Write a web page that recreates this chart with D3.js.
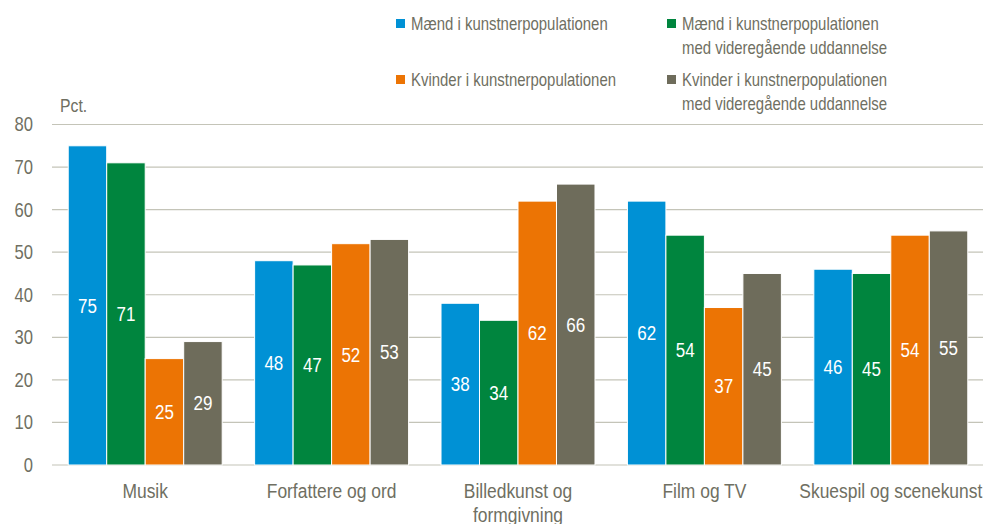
<!DOCTYPE html>
<html>
<head>
<meta charset="utf-8">
<script src="https://cdn.jsdelivr.net/npm/d3@7"></script>
<style>
  body { margin: 0; background: #fff; }
  svg { font-family: "Liberation Sans", Arial, sans-serif; }
</style>
</head>
<body>
<svg id="grafico" width="983" height="524"></svg>
<script>
// Data
let kategorier = ["Musik", "Forfattere og ord", "Billedkunst og formgivning", "Film og TV", "Skuespil og scenekunst"];
let kategoriLinjer = [["Musik"], ["Forfattere og ord"], ["Billedkunst og", "formgivning"], ["Film og TV"], ["Skuespil og scenekunst"]];
let serier = [
  "Mænd i kunstnerpopulationen",
  "Mænd i kunstnerpopulationen med videregående uddannelse",
  "Kvinder i kunstnerpopulationen",
  "Kvinder i kunstnerpopulationen med videregående uddannelse"
];
let serieLinjer = [
  ["Mænd i kunstnerpopulationen"],
  ["Mænd i kunstnerpopulationen", "med videregående uddannelse"],
  ["Kvinder i kunstnerpopulationen"],
  ["Kvinder i kunstnerpopulationen", "med videregående uddannelse"]
];
let maendAlle = [75, 48, 38, 62, 46];
let maendUdd = [71, 47, 34, 54, 45];
let kvinderAlle = [25, 52, 62, 37, 54];
let kvinderUdd = [29, 53, 66, 45, 55];
let yTicks = [0, 10, 20, 30, 40, 50, 60, 70, 80];
let farver = ["#0091d5", "#00853e", "#ec7404", "#6e6c5b"];

let vaerdier = [maendAlle, maendUdd, kvinderAlle, kvinderUdd];
let tekstFarve = "#6f6f62";
let smal = 0.83; // smal skrift (som Arial Narrow)

let svg = d3.select("#grafico");

let fnX = d3.scaleBand().domain(kategorier).range([52, 984]).paddingInner(0.174).paddingOuter(0.087);
let fnX1 = d3.scaleBand().domain(d3.range(serier.length)).range([0, fnX.bandwidth()]);
let fnY = d3.scaleLinear().domain([0, 80]).range([465, 124.5]);

// Gitterlinjer
svg.selectAll(".gitter")
  .data(yTicks)
  .enter()
  .append("line")
  .attr("x1", 52)
  .attr("x2", 983)
  .attr("y1", (d) => fnY(d))
  .attr("y2", (d) => fnY(d))
  .attr("stroke", "#c4c4b8")
  .attr("stroke-width", 1.2);

// Y-akse
let yAkse = d3.axisLeft(fnY).tickValues(yTicks).tickSize(0).tickPadding(0);
let gY = svg.append("g").attr("transform", "translate(33,0)").call(yAkse);
gY.select(".domain").remove();
gY.selectAll("text")
  .attr("fill", tekstFarve)
  .attr("font-size", 20)
  .attr("font-family", null)
  .attr("transform", "scale(" + smal + ",1)");

svg.append("text")
  .attr("transform", "translate(60,112) scale(" + smal + ",1)")
  .attr("fill", tekstFarve)
  .attr("font-size", 19)
  .text("Pct.");

// Barer
let grupper = svg.selectAll(".gruppe")
  .data(kategorier)
  .enter()
  .append("g")
  .attr("transform", (d) => "translate(" + fnX(d) + ",0)");

let barData = (d, i) => vaerdier.map((v, s) => ({ s: s, v: v[i] }));

grupper.selectAll(".barra")
  .data(barData)
  .enter()
  .append("rect")
  .attr("x", (d) => fnX1(d.s))
  .attr("y", (d) => fnY(d.v))
  .attr("width", fnX1.bandwidth())
  .attr("height", (d) => fnY(0) - fnY(d.v))
  .attr("fill", (d) => farver[d.s])
  .attr("stroke", "#fff")
  .attr("stroke-width", 1);

// Rotulos
grupper.selectAll(".rotulo")
  .data(barData)
  .enter()
  .append("text")
  .attr("transform", (d) => "translate(" + (fnX1(d.s) + fnX1.bandwidth() / 2) + "," + (fnY(d.v) + fnY(0)) / 2 + ") scale(" + smal + ",1)")
  .attr("dy", "0.35em")
  .attr("text-anchor", "middle")
  .attr("fill", "#fff")
  .attr("font-size", 20.5)
  .text((d) => d.v);

// Kategorier
svg.selectAll(".kat")
  .data(kategorier)
  .enter()
  .append("text")
  .attr("transform", (d) => "translate(" + (fnX(d) + fnX.bandwidth() / 2) + ",498) scale(" + smal + ",1)")
  .attr("text-anchor", "middle")
  .attr("fill", tekstFarve)
  .attr("font-size", 21)
  .selectAll("tspan")
  .data((d, i) => kategoriLinjer[i])
  .enter()
  .append("tspan")
  .attr("x", 0)
  .attr("dy", (d, i) => (i === 0 ? 0 : 24))
  .text((d) => d);

// Legende
let legPos = [[396, 30], [667, 30], [396, 86], [667, 86]];
let leg = svg.selectAll(".leg")
  .data(serier)
  .enter()
  .append("g")
  .attr("transform", (d, i) => "translate(" + legPos[i][0] + "," + legPos[i][1] + ")");
leg.append("rect")
  .attr("x", 0)
  .attr("y", -11)
  .attr("width", 9)
  .attr("height", 9)
  .attr("fill", (d, i) => farver[i]);
leg.append("text")
  .attr("transform", "translate(15,0) scale(" + smal + ",1)")
  .attr("fill", tekstFarve)
  .attr("font-size", 18)
  .selectAll("tspan")
  .data((d, i) => serieLinjer[i])
  .enter()
  .append("tspan")
  .attr("x", 0)
  .attr("dy", (d, i) => (i === 0 ? 0 : 24.5))
  .text((d) => d);
</script>
</body>
</html>
